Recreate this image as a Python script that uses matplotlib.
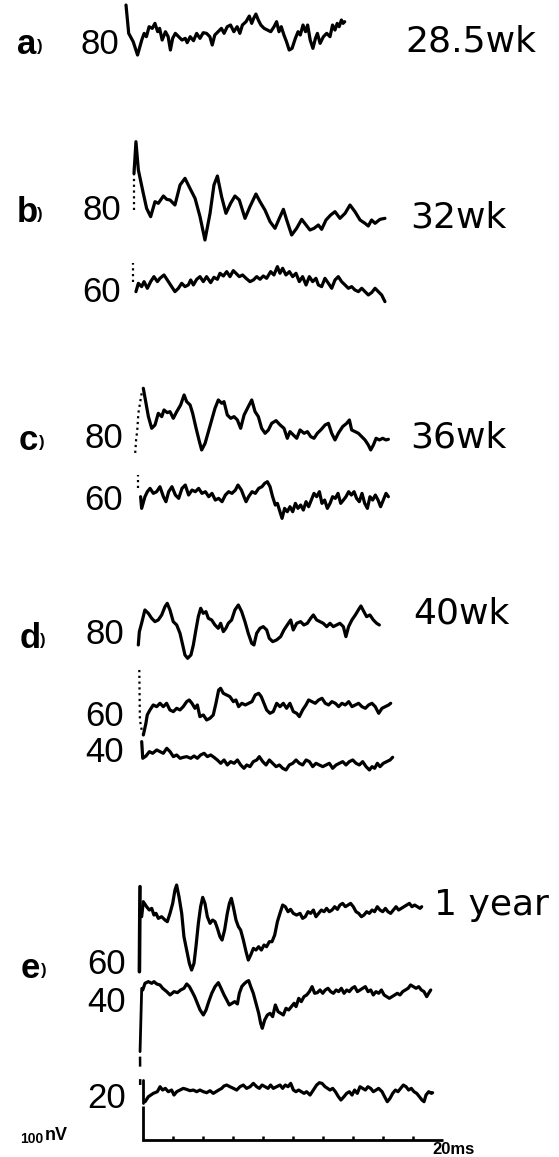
import numpy as np
import matplotlib
matplotlib.use("Agg")
import matplotlib.pyplot as plt

plt.rcParams['font.family'] = ['Liberation Sans', 'DejaVu Sans']

W, H = 559, 1157
PX_PER_MS = 15.0          # horizontal scale: 20 ms bar
PX_PER_NV = 1.0 / 3.0     # vertical scale: 100 nV bar
ORIGIN_PX = (143.3, 1139.5)

# ---- averaged responses: time (ms) from stimulus, amplitude (nV) ----
a80_t = [0, 0.18, 0.48, 0.77, 1.05, 1.21, 1.36, 1.54, 1.75, 1.93, 2.11, 2.24, 2.41, 2.63, 2.81, 2.96,
         3.11, 3.29, 3.51, 3.73, 3.95, 4.08, 4.28, 4.50, 4.71, 4.93, 5.15, 5.37, 5.59, 5.75, 5.92, 6.14,
         6.36, 6.54, 6.75, 6.97, 7.19, 7.41, 7.59, 7.76, 8.00, 8.22, 8.38, 8.51, 8.66, 8.82, 8.99, 9.21,
         9.43, 9.65, 9.87, 10.04, 10.20, 10.35, 10.53, 10.70, 10.88, 11.07, 11.29, 11.47, 11.62, 11.80,
         11.97, 12.11, 12.28, 12.46, 12.63, 12.76, 12.94, 13.16, 13.38, 13.60, 13.77, 13.93, 14.08,
         14.21, 14.36, 14.47, 14.58]
a80_v = [95, 10, -15, -55, -10, 10, 0, 30, 25, 40, 15, 25, -10, 15, 0, -40,
         -5, 10, 0, -10, -5, -18, 0, -12, 10, -5, 12, 10, 0, -25, 5, 15,
         25, 10, 30, 35, 15, 30, 10, 35, 45, 62, 40, 55, 68, 50, 35, 25,
         20, 15, 30, 45, 15, 30, 5, -15, -40, -35, -5, 15, 5, 35,
         15, 35, -10, -35, -5, 10, -20, 0, 10, 0, 35, 20, 40,
         30, 50, 40, 45]

b80_t = [0, 0.13, 0.29, 0.62, 0.84, 1.11, 1.40, 1.62, 1.96, 2.18, 2.40, 2.73, 3.07, 3.40, 3.73, 4.07,
         4.40, 4.73, 5.07, 5.33, 5.56, 5.84, 6.13, 6.44, 6.73, 7.02, 7.40, 7.73, 8.13, 8.40, 8.73, 9.07,
         9.40, 9.69, 9.96, 10.18, 10.51, 10.84, 11.18, 11.47, 11.73, 12.00, 12.29, 12.51, 12.80, 13.11,
         13.40, 13.73, 14.07, 14.40, 14.73, 15.07, 15.40, 15.62, 15.84, 16.07, 16.40, 16.73]
b80_v = [110, 205, 120, 50, 5, -20, 25, 20, 42, 32, 30, 15, 75, 95, 65, 35,
         -20, -90, -10, 75, 102, 40, -10, 20, 42, 30, -25, 10, 48, 25, 0, -35,
         -55, -25, 2, -30, -75, -55, -28, -45, -60, -55, -45, -58, -30, -15,
         -5, -25, -10, 15, -5, -30, -40, -48, -30, -40, -28, -25]

b60_t = [0.13, 0.29, 0.51, 0.67, 0.89, 1.11, 1.33, 1.56, 1.73, 2.00, 2.22, 2.51, 2.73, 2.96, 3.18, 3.40,
         3.62, 3.78, 3.96, 4.18, 4.40, 4.62, 4.84, 5.11, 5.33, 5.56, 5.73, 5.96, 6.18, 6.40, 6.62, 6.80,
         7.02, 7.24, 7.47, 7.73, 7.96, 8.18, 8.40, 8.62, 8.84, 9.11, 9.33, 9.56, 9.73, 9.91, 10.13, 10.36,
         10.58, 10.80, 11.02, 11.24, 11.47, 11.69, 11.91, 12.13, 12.29, 12.51, 12.73, 12.96, 13.18, 13.40,
         13.62, 13.84, 14.07, 14.29, 14.51, 14.73, 14.96, 15.18, 15.40, 15.62, 15.84, 16.07, 16.29,
         16.51, 16.73]
b60_v = [-25, 0, -10, 5, -15, 5, 20, 5, 15, 25, 10, -10, -25, -15, 0, -10,
         -5, 10, -5, 12, 20, 5, 20, 2, 18, 12, 30, 22, 35, 20, 38, 30,
         20, 25, 15, 5, 10, 20, 12, 22, 15, 35, 25, 50, 30, 45, 25, 35,
         20, 30, 5, 20, -5, 20, 5, 15, -5, -10, 15, 0, -15, 10,
         20, 5, -5, -15, -10, -20, -25, -15, -25, -35, -28, -15, -25,
         -35, -55]

c80_t = [0.04, 0.22, 0.38, 0.60, 0.82, 1.04, 1.27, 1.42, 1.64, 1.82, 2.04, 2.27, 2.53, 2.76, 2.93, 3.16,
         3.33, 3.56, 3.78, 3.93, 4.16, 4.38, 4.60, 4.82, 5.04, 5.27, 5.42, 5.64, 5.87, 6.09, 6.31, 6.53,
         6.76, 7.04, 7.27, 7.49, 7.71, 7.93, 8.16, 8.38, 8.60, 8.89, 9.16, 9.42, 9.64, 9.82, 10.04, 10.27,
         10.49, 10.76, 10.98, 11.20, 11.42, 11.64, 11.87, 12.16, 12.38, 12.60, 12.82, 13.04, 13.33,
         13.60, 13.78, 13.93, 14.16, 14.38, 14.60, 14.82, 15.04, 15.20, 15.38, 15.56, 15.78, 16.00,
         16.22, 16.38]
c80_v = [120, 75, 35, 0, 10, 45, 35, 55, 47, 50, 30, 50, 70, 100, 80, 70,
         45, 0, -40, -65, -45, -10, 25, 60, 85, 75, 80, 40, 30, 35, 25, 0,
         40, 65, 85, 50, 35, 0, -15, -5, 15, 23, 10, 0, -30, -10, -20, -30,
         -5, -15, -10, -25, -30, -15, -5, 10, 15, -15, -35, -15, 5,
         15, 25, -5, -10, -15, -25, -35, -50, -65, -50, -30, -35, -30,
         -35, -33]

c60_t = [0.04, 0.11, 0.33, 0.49, 0.67, 0.89, 1.11, 1.33, 1.56, 1.73, 1.91, 2.13, 2.36, 2.58, 2.80, 3.02,
         3.24, 3.47, 3.69, 3.91, 4.13, 4.36, 4.58, 4.80, 5.02, 5.24, 5.47, 5.69, 5.91, 6.13, 6.36, 6.53,
         6.76, 6.93, 7.07, 7.24, 7.47, 7.69, 7.91, 8.13, 8.31, 8.49, 8.67, 8.84, 9.02, 9.16, 9.33, 9.47,
         9.64, 9.82, 10.00, 10.18, 10.36, 10.53, 10.71, 10.89, 11.07, 11.24, 11.42, 11.60, 11.78, 11.96,
         12.13, 12.31, 12.49, 12.67, 12.84, 13.02, 13.20, 13.38, 13.56, 13.73, 13.91, 14.09, 14.27,
         14.44, 14.62, 14.80, 14.98, 15.16, 15.33, 15.51, 15.69, 15.87, 16.04, 16.22, 16.40, 16.56]
c60_v = [0, -35, 0, 15, 25, 10, 15, 30, 0, -15, 15, 30, 5, -5, 25, 35,
         5, 20, 15, 25, 10, 15, 0, 10, -10, -5, -15, 5, 15, 10, 20, 35,
         20, 0, -15, 0, 15, 10, 25, 30, 40, 45, 30, 0, -25, -20, -45, -65,
         -35, -45, -30, -45, -20, -35, -25, -40, -15, -30, -10, 10, 0, 15,
         -20, -10, -35, -20, 0, -5, 10, -20, -10, 0, 15, 5, 15,
         -5, -15, 10, -20, -35, 0, -10, 5, -10, -30, -10, 10, 0]

d80_t = [0, 0.07, 0.22, 0.44, 0.67, 0.89, 1.11, 1.33, 1.56, 1.78, 1.93, 2.11, 2.33, 2.56, 2.78, 2.96,
         3.11, 3.29, 3.51, 3.67, 3.84, 4.00, 4.16, 4.33, 4.51, 4.67, 4.89, 5.11, 5.33, 5.49, 5.67, 5.84,
         6.00, 6.22, 6.44, 6.67, 6.89, 7.11, 7.33, 7.56, 7.71, 7.89, 8.11, 8.33, 8.56, 8.73, 8.96, 9.22,
         9.49, 9.71, 9.93, 10.16, 10.33, 10.56, 10.82, 11.04, 11.27, 11.49, 11.67, 11.89, 12.11, 12.33,
         12.56, 12.78, 13.00, 13.22, 13.44, 13.67, 13.84, 14.02, 14.24, 14.47, 14.67, 14.84, 15.04,
         15.22, 15.44, 15.67, 15.89, 16.07]
d80_v = [-35, 5, 30, 70, 60, 45, 35, 40, 55, 80, 90, 70, 35, 25, 0, -35,
         -65, -75, -65, -35, 10, 50, 75, 60, 65, 45, 40, 25, 15, 30, 5, 15,
         30, 40, 70, 85, 65, 35, 0, -30, -35, 0, 15, 20, 10, -15, -25, -20,
         -10, 10, 25, 40, 10, 30, 35, 25, 30, 45, 55, 40, 35, 30,
         20, 30, 20, 25, 30, 20, -10, 20, 40, 55, 70, 82, 65,
         50, 55, 40, 30, 25]

d60_t = [0.27, 0.44, 0.53, 0.71, 0.93, 1.16, 1.38, 1.60, 1.82, 2.04, 2.27, 2.49, 2.71, 2.93, 3.16, 3.33,
         3.51, 3.71, 3.87, 4.04, 4.27, 4.49, 4.71, 4.93, 5.11, 5.29, 5.42, 5.60, 5.82, 6.04, 6.27, 6.44,
         6.62, 6.84, 7.07, 7.29, 7.51, 7.73, 7.96, 8.13, 8.31, 8.49, 8.71, 8.93, 9.16, 9.38, 9.60, 9.82,
         10.04, 10.27, 10.49, 10.67, 10.89, 11.11, 11.29, 11.51, 11.73, 11.96, 12.18, 12.40, 12.62,
         12.84, 13.07, 13.29, 13.51, 13.73, 13.96, 14.18, 14.40, 14.62, 14.84, 15.07, 15.29, 15.51,
         15.73, 15.96, 16.18, 16.40, 16.62, 16.76]
d60_v = [-80, -45, -20, -5, 10, 5, 15, 5, 15, -5, -10, 0, -5, 5, 20, 25,
         15, 0, 10, -25, -20, -35, -30, -20, 15, 55, 60, 45, 40, 35, 20, 25,
         5, 15, 10, 15, 20, 40, 45, 35, 15, -5, -15, -10, 15, 5, 15, 0,
         15, -10, -15, -25, -5, 10, 25, 20, 15, 25, 30, 15, 10,
         20, 15, 5, 15, 10, 20, 5, 10, 15, 5, 0, 10, 15,
         5, -15, 0, 5, 10, 15]

d40_t = [0, 0.07, 0.29, 0.51, 0.73, 1.00, 1.22, 1.44, 1.67, 1.89, 2.11, 2.33, 2.56, 2.78, 3.00, 3.27,
         3.49, 3.71, 3.93, 4.16, 4.38, 4.60, 4.82, 5.04, 5.27, 5.49, 5.71, 5.93, 6.16, 6.38, 6.60, 6.82,
         7.00, 7.22, 7.44, 7.67, 7.84, 8.07, 8.29, 8.51, 8.73, 8.96, 9.18, 9.40, 9.62, 9.84, 10.07, 10.29,
         10.51, 10.73, 10.96, 11.18, 11.40, 11.62, 11.84, 12.07, 12.29, 12.51, 12.73, 12.96, 13.18,
         13.40, 13.62, 13.84, 14.07, 14.29, 14.51, 14.73, 14.96, 15.18, 15.36, 15.53, 15.71, 15.89,
         16.11, 16.33, 16.56, 16.73]
d40_v = [50, 0, 7, 20, 15, 25, 20, 15, 30, 20, 5, 10, 0, 3, 5, 0,
         7, 0, 10, 15, 5, 10, 3, -5, -15, -5, -20, -10, -15, -5, -20, -30,
         -20, -25, -10, -5, 5, -10, -20, -5, -15, -25, -20, -30, -35, -20, -15, -5,
         -15, -20, -5, -10, -25, -15, -20, -25, -20, -15, -30, -20, -15,
         -10, -20, -10, -5, -15, -20, -10, -25, -35, -25, -30, -15, -25,
         -15, -10, -5, 3]

e60_t = [0.11, 0.22, 0.44, 0.62, 0.78, 0.93, 1.07, 1.22, 1.44, 1.67, 1.82, 2.00, 2.18, 2.33, 2.44, 2.60,
         2.78, 2.93, 3.11, 3.29, 3.44, 3.60, 3.73, 3.89, 4.04, 4.18, 4.33, 4.49, 4.67, 4.84, 5.00, 5.16,
         5.33, 5.47, 5.64, 5.82, 5.96, 6.09, 6.22, 6.40, 6.56, 6.71, 6.89, 7.07, 7.22, 7.38, 7.56, 7.73,
         7.91, 8.09, 8.27, 8.44, 8.62, 8.80, 8.98, 9.16, 9.33, 9.51, 9.69, 9.87, 10.04, 10.22, 10.44,
         10.67, 10.84, 11.02, 11.20, 11.38, 11.56, 11.73, 11.91, 12.09, 12.27, 12.44, 12.62, 12.80,
         12.98, 13.16, 13.33, 13.51, 13.69, 13.87, 14.04, 14.22, 14.40, 14.58, 14.76, 14.93, 15.11,
         15.29, 15.47, 15.64, 15.82, 16.00, 16.18, 16.36, 16.53, 16.71, 16.89, 17.07, 17.24, 17.42,
         17.60, 17.78, 17.96, 18.13, 18.31, 18.49, 18.67, 18.78]
e60_v = [-15, 30, 15, 5, 10, -10, -5, -20, -15, -25, -30, -5, 25, 65, 80, 45,
         -5, -75, -115, -155, -175, -155, -105, -35, 15, 43, 25, -15, -35, -25, -30, -50,
         -75, -85, -55, -5, 25, 40, 15, -25, -45, -55, -85, -120, -145, -130, -110, -115,
         -105, -115, -100, -105, -90, -90, -70, -30, -5, 20, 15, 0, 7, -5, -10,
         -5, -20, -15, 0, -5, 5, -15, -5, 5, 0, 10, 0, 5,
         15, 7, 20, 25, 15, 20, 25, 15, 0, -5, -15, -10, 0,
         -5, 5, 0, 15, 5, 0, 10, 0, -5, 5, 15, 5, 10,
         15, 20, 25, 15, 20, 15, 10, 15]

e40_t = [0.07, 0.22, 0.44, 0.67, 0.82, 1.00, 1.22, 1.40, 1.67, 1.89, 2.16, 2.38, 2.60, 2.82, 3.00, 3.18,
         3.36, 3.53, 3.71, 3.89, 4.11, 4.29, 4.47, 4.67, 4.89, 5.11, 5.29, 5.49, 5.67, 5.84, 6.02, 6.20,
         6.38, 6.51, 6.67, 6.82, 7.00, 7.13, 7.27, 7.44, 7.62, 7.80, 7.93, 8.04, 8.20, 8.38, 8.56, 8.73,
         8.91, 9.09, 9.27, 9.44, 9.62, 9.80, 9.98, 10.16, 10.29, 10.47, 10.64, 10.82, 11.00, 11.18,
         11.36, 11.53, 11.71, 11.89, 12.07, 12.24, 12.42, 12.60, 12.78, 12.96, 13.13, 13.31, 13.49,
         13.67, 13.84, 14.02, 14.20, 14.38, 14.56, 14.73, 14.91, 15.09, 15.27, 15.44, 15.62, 15.80,
         15.98, 16.16, 16.33, 16.51, 16.69, 16.87, 17.04, 17.22, 17.40, 17.58, 17.76, 17.93, 18.11,
         18.29, 18.47, 18.64, 18.82, 19.00, 19.13, 19.27]
e40_v = [10, 30, 35, 30, 35, 28, 25, 15, 5, -5, 5, 2, 10, 15, 28, 20,
         5, -10, -30, -50, -65, -50, -25, 0, 20, 32, 15, -5, -20, -35, -30, -25,
         -32, 0, 20, 28, 35, 38, 20, 0, -30, -60, -90, -105, -80, -65, -60, -70,
         -35, -55, -60, -65, -45, -50, -40, -30, -40, -15, -25, -10, -5, 5,
         20, 0, 2, 10, 0, 10, 15, 5, 0, 10, 5, 15, 0,
         10, 5, 15, 20, 5, 10, 15, 20, 5, 10, -5, 5, 0,
         10, -5, -10, -15, -10, -5, 0, -5, 5, 10, 15, 25, 20,
         15, 20, 10, 5, -10, 0, 10]

e20_t = [0.07, 0.29, 0.62, 0.89, 1.07, 1.24, 1.42, 1.62, 1.84, 2.00, 2.18, 2.40, 2.62, 2.84, 3.07, 3.29,
         3.51, 3.73, 3.96, 4.18, 4.40, 4.62, 4.80, 4.98, 5.18, 5.33, 5.51, 5.73, 5.96, 6.18, 6.40, 6.62,
         6.84, 7.07, 7.29, 7.51, 7.69, 7.87, 8.07, 8.27, 8.44, 8.62, 8.84, 9.07, 9.24, 9.42, 9.60, 9.78,
         9.96, 10.13, 10.31, 10.49, 10.67, 10.84, 11.07, 11.29, 11.51, 11.69, 11.87, 12.07, 12.24,
         12.40, 12.58, 12.76, 12.96, 13.13, 13.33, 13.51, 13.69, 13.87, 14.04, 14.22, 14.40, 14.58,
         14.76, 14.93, 15.11, 15.29, 15.47, 15.64, 15.87, 16.04, 16.22, 16.40, 16.58, 16.76, 16.93,
         17.11, 17.29, 17.47, 17.64, 17.82, 18.00, 18.18, 18.36, 18.53, 18.67, 18.80, 18.98, 19.16,
         19.24]
e20_v = [-30, -15, -5, 0, 15, 5, 10, 0, 5, -10, 0, 5, 10, 7, 3, 5,
         0, 5, 0, -3, 3, -5, 0, 5, 10, 17, 20, 15, 10, 5, 15, 20,
         10, 15, 25, 15, 10, 20, 15, 10, 20, 10, 15, 20, 10, 20, 15, 25,
         5, 0, 5, 0, -5, 0, -10, 5, 20, 27, 25, 15, 10,
         5, 10, 0, -15, -25, -15, -5, 0, -10, 5, -5, 15, 10,
         5, 15, 10, 0, 5, 10, 0, -15, -30, -20, -5, 5, 0,
         10, 20, 15, 5, 10, 0, -5, -15, -25, -30, -10, 0, -5,
         -3]

# stimulus artifacts (dotted or solid vertical marks at onset)
b80_art_t = [0.0, 0.0]
b80_art_v = [0, 130]
b60_art_t = [-0.1, -0.1]
b60_art_v = [5, 60]
c80_art_t = [-0.07, -0.18, -0.29, -0.36, -0.44, -0.51]
c80_art_v = [105, 75, 45, -5, -35, -80]
c60_art_t = [-0.11, -0.11]
c60_art_v = [25, 65]
d60_art_t = [0.0, 0.04, 0.16, 0.27]
d60_art_v = [115, -35, -65, -80]
e60_art_t = [-0.04, 0.0]
e60_art_v = [-180, 75]
e40_art_t = [0.0, -0.11]
e40_art_v = [15, -175]
e40_lead_t = [-0.11, -0.1]
e40_lead_v = [-190, -275]
e20_art_t = [-0.07, -0.07]
e20_art_v = [35, -35]

# scale bar
BAR_MS = 20
BAR_NV = 100
TICK_MS = list(range(2, 20, 2))

fig = plt.figure(figsize=(W / 100, H / 100), dpi=100)
ax = fig.add_axes([0, 0, 1, 1])
ax.set_xlim(-ORIGIN_PX[0] / PX_PER_MS, (W - ORIGIN_PX[0]) / PX_PER_MS)
ax.set_ylim(-(H - ORIGIN_PX[1]) / PX_PER_NV, ORIGIN_PX[1] / PX_PER_NV)
ax.axis('off')


def at(xpx, ypx):
    """Page position (pixels from top-left) -> data units (ms, nV)."""
    return ((xpx - ORIGIN_PX[0]) / PX_PER_MS, (ORIGIN_PX[1] - ypx) / PX_PER_NV)


LW = 2.3
line_kw = dict(color='black', lw=LW, solid_joinstyle='round', solid_capstyle='round')


def trace(t, v, x0, y0, **kw):
    ox, oy = at(x0, y0)
    style = dict(line_kw)
    style.update(kw)
    ax.plot(np.asarray(t) + ox, np.asarray(v) + oy, **style)


# (t, v, onset x, baseline y) for each sweep
traces = [
    (a80_t, a80_v, 126.0, 36.7),
    (b80_t, b80_v, 134.0, 210.0),
    (b60_t, b60_v, 134.0, 283.3),
    (c80_t, c80_v, 142.7, 428.3),
    (c60_t, c60_v, 140.0, 496.7),
    (d80_t, d80_v, 138.3, 633.3),
    (d60_t, d60_v, 139.3, 708.3),
    (d40_t, d40_v, 141.7, 758.3),
    (e60_t, e60_v, 140.0, 911.7),
    (e40_t, e40_v, 141.7, 993.3),
    (e20_t, e20_v, 144.0, 1091.7),
]
for t, v, x0, y0 in traces:
    trace(t, v, x0, y0)

dotted = dict(ls=(0, (1, 1.6)), lw=1.6, color='black')
trace(b80_art_t, b80_art_v, 134.0, 210.0, **dotted)
trace(b60_art_t, b60_art_v, 134.0, 283.3, **dotted)
trace(c80_art_t, c80_art_v, 142.7, 428.3, **dotted)
trace(c60_art_t, c60_art_v, 140.0, 496.7, **dotted)
trace(d60_art_t, d60_art_v, 139.3, 708.3, **dotted)
trace(e60_art_t, e60_art_v, 140.0, 911.7, lw=2.6)
trace(e40_art_t, e40_art_v, 141.7, 993.3, lw=2.0)
trace(e40_lead_t, e40_lead_v, 141.7, 993.3, color='black', lw=1.8, ls=(0, (4, 5)))
trace(e20_art_t, e20_art_v, 144.0, 1091.7, lw=2.0)

# calibration: 100 nV vertical, 20 ms horizontal with 2 ms ticks
ax.plot([0, 0, BAR_MS], [BAR_NV, 0, 0], color='black', lw=2.0,
        solid_joinstyle='miter', solid_capstyle='butt')
for tk in TICK_MS:
    ax.plot([tk, tk], [0, 10], color='black', lw=1.8, solid_capstyle='butt')

# ---- text ----
num_fs = 25
tag_fs = 26


def label(xpx, ypx, s, size, ha='left', weight='normal', family=None):
    x, y = at(xpx, ypx)
    kw = {}
    if family:
        kw['family'] = family
    ax.text(x, y, s, fontsize=size, ha=ha, va='center', color='black',
            fontweight=weight, **kw)


def tag(xpx, ypx, letter):
    label(xpx, ypx, letter, 25, weight='bold')
    label(xpx + 20, ypx + 2, ')', 12, weight='bold')


tag(17, 45, 'a')
tag(17, 213, 'b')
tag(19, 440, 'c')
tag(20, 638, 'd')
tag(21, 968, 'e')

label(119, 44, '80', num_fs, ha='right')
label(121, 210, '80', num_fs, ha='right')
label(121, 292, '60', num_fs, ha='right')
label(123, 438, '80', num_fs, ha='right')
label(123, 500, '60', num_fs, ha='right')
label(124, 635, '80', num_fs, ha='right')
label(124, 716, '60', num_fs, ha='right')
label(124, 753, '40', num_fs, ha='right')
label(126, 965, '60', num_fs, ha='right')
label(126, 1003, '40', num_fs, ha='right')
label(126, 1098, '20', num_fs, ha='right')

wide = ['DejaVu Sans']
label(405, 42, '28.5wk', tag_fs, family=wide)
label(410, 217, '32wk', tag_fs, family=wide)
label(410, 438, '36wk', tag_fs, family=wide)
label(413, 613, '40wk', tag_fs, family=wide)
label(434, 905, '1 year', tag_fs, family=wide)

label(20, 1139, '100', 10, weight='bold')
label(45, 1136, 'nV', 13, weight='bold')
label(432, 1150, '20ms', 12, weight='bold')

fig.savefig('out.png', dpi=100)
